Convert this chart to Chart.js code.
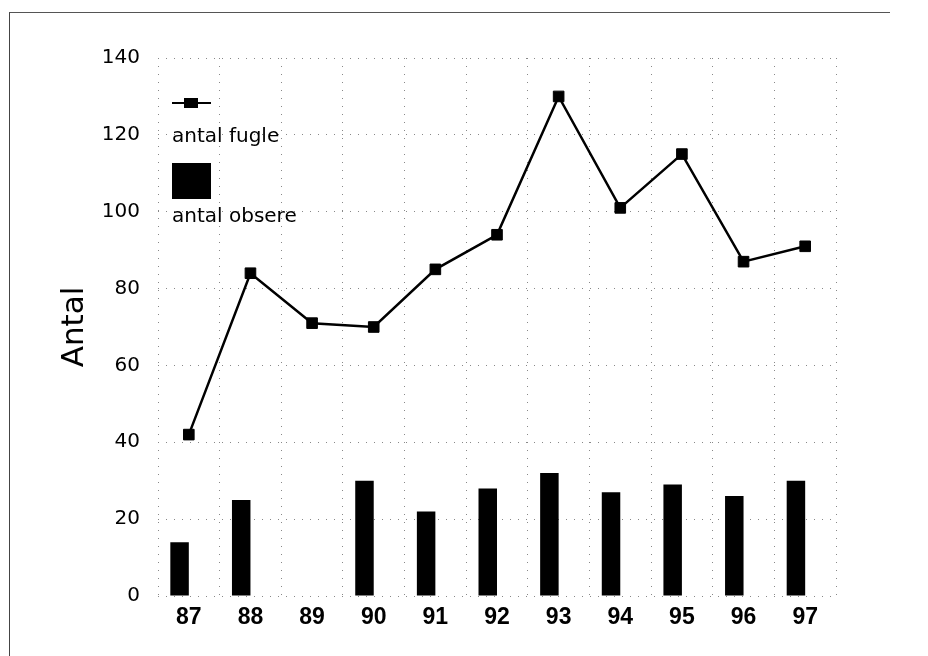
<!DOCTYPE html>
<html>
<head>
<meta charset="utf-8">
<script src="https://cdn.jsdelivr.net/npm/chart.js@4"></script>
<style>
  html, body { margin: 0; padding: 0; background: #fff; }
  #wrap { position: relative; width: 928px; height: 656px; overflow: hidden; }
  #frame { position: absolute; left: 9px; top: 12px; width: 880px; height: 700px;
           border-left: 1.5px solid #444; border-top: 1.5px solid #555; }
  canvas { position: absolute; left: 0; top: 0; }
</style>
</head>
<body>
<div id="wrap">
  <div id="frame"></div>
  <canvas id="chart" width="928" height="656"></canvas>
</div>
<script>
// data
var years = ['87', '88', '89', '90', '91', '92', '93', '94', '95', '96', '97'];
var antalFugle = [42, 84, 71, 70, 85, 94, 130, 101, 115, 87, 91];
var antalObservatoerer = [14, 25, 0, 30, 22, 28, 32, 27, 29, 26, 30];
var yTicks = [0, 20, 40, 60, 80, 100, 120, 140];

var fugleLabel = 'antal fugle';
var obsLabel = 'antal obsere';

// legend drawn in the top-left of the plot, stacked like the original
var stackedLegend = {
    id: 'stackedLegend',
    afterDraw: function(chart) {
        var ctx = chart.ctx;
        var x = chart.chartArea.left + 14;
        ctx.save();
        // line marker
        ctx.strokeStyle = '#000';
        ctx.lineWidth = 2;
        ctx.beginPath();
        ctx.moveTo(x, 103);
        ctx.lineTo(x + 39, 103);
        ctx.stroke();
        ctx.fillStyle = '#000';
        ctx.fillRect(x + 12, 98, 14, 10);
        ctx.font = '20px "DejaVu Sans"';
        ctx.textBaseline = 'alphabetic';
        ctx.fillText(chart.data.datasets[0].label, x, 142);
        // bar marker
        ctx.fillRect(x, 163, 39, 36);
        ctx.fillText(chart.data.datasets[1].label, x, 222);
        ctx.restore();
    }
};

var ctx = document.getElementById('chart').getContext('2d');
var chart = new Chart(ctx, {
    type: 'bar',
    data: {
        labels: years,
        datasets: [
            {
                type: 'line',
                label: fugleLabel,
                data: antalFugle,
                borderColor: '#000',
                backgroundColor: '#000',
                borderWidth: 2.5,
                pointStyle: 'rect',
                pointRadius: 7.5,
                pointBorderWidth: 1,
                tension: 0,
                order: 0
            },
            {
                label: obsLabel,
                data: antalObservatoerer,
                backgroundColor: '#000',
                borderWidth: 0,
                barPercentage: 1.0,
                categoryPercentage: 0.6,
                order: 1
            },
            {
                // empty partner so the bars sit left of the year mark
                label: '',
                data: years.map(function() { return null; }),
                backgroundColor: 'rgba(0,0,0,0)',
                barPercentage: 1.0,
                categoryPercentage: 0.6,
                order: 2
            }
        ]
    },
    options: {
        responsive: false,
        animation: false,
        layout: {
            padding: { top: 58, right: 92, bottom: 0, left: 0 }
        },
        plugins: {
            legend: { display: false },
            tooltip: { enabled: false }
        },
        scales: {
            x: {
                grid: {
                    display: true,
                    drawTicks: false,
                    color: '#888',
                    lineWidth: 1
                },
                border: { display: false, dash: [1, 7] },
                ticks: {
                    color: '#000',
                    padding: 8,
                    font: { family: '"Liberation Sans", Arial', size: 23, weight: 'bold' }
                },
                afterFit: function(scale) { scale.height = 60; }
            },
            y: {
                min: 0,
                max: 140,
                afterBuildTicks: function(scale) {
                    scale.ticks = yTicks.map(function(v) { return { value: v }; });
                },
                grid: {
                    drawTicks: false,
                    color: '#888',
                    lineWidth: 1
                },
                border: { display: false, dash: [1, 7] },
                ticks: {
                    color: '#000',
                    padding: 18,
                    font: { family: '"DejaVu Sans"', size: 20 }
                },
                title: {
                    display: true,
                    text: 'Antal',
                    color: '#000',
                    font: { family: '"DejaVu Sans"', size: 31 },
                    padding: { top: 56, bottom: 0 }
                },
                afterFit: function(scale) { scale.width = 158; }
            }
        }
    },
    plugins: [stackedLegend]
});
</script>
</body>
</html>
